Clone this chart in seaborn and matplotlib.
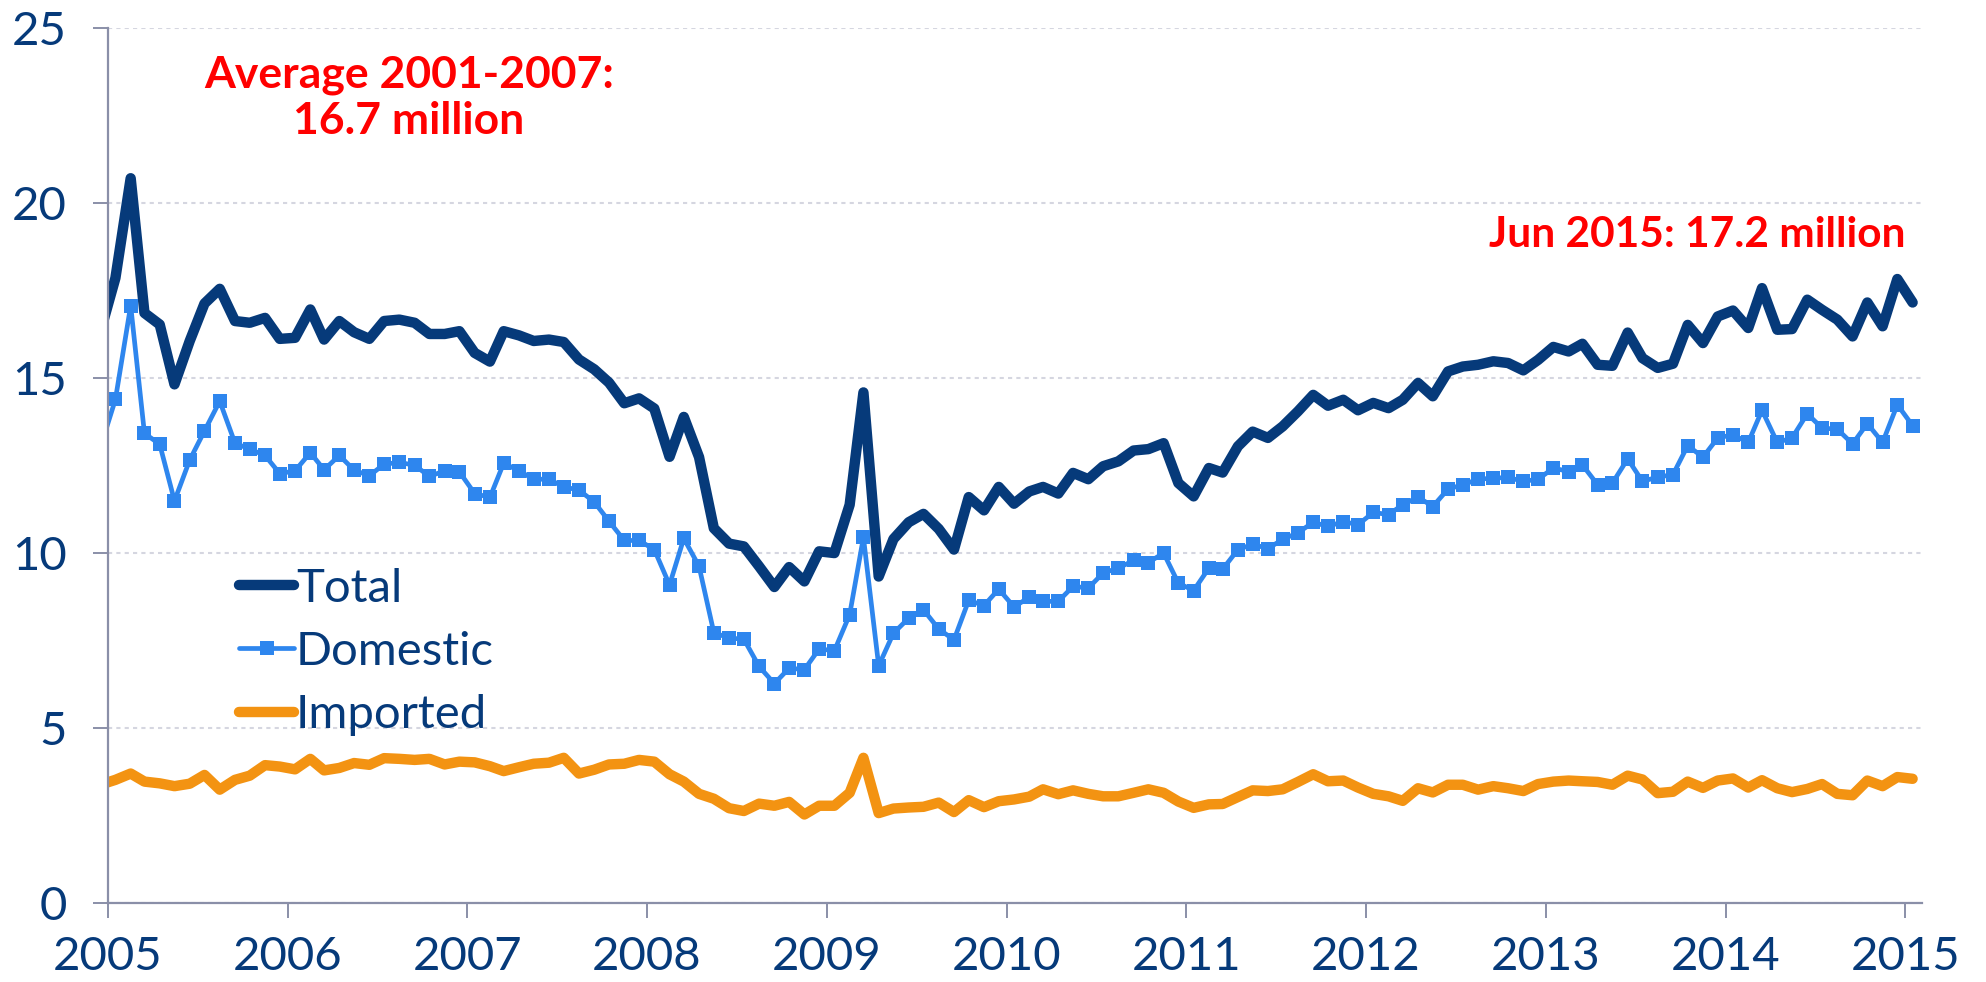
import pandas as pd
import numpy as np
import seaborn as sns
import matplotlib
matplotlib.use('Agg')
import matplotlib.pyplot as plt
import matplotlib.dates as mdates

# monthly values, Dec 2004 .. Jan 2015 (millions, SAAR)
total = [16.3, 17.86, 20.71, 16.86, 16.53, 14.82, 16.06, 17.13, 17.55, 16.63, 16.58, 16.72, 16.12,
         16.15, 16.96, 16.10, 16.63, 16.31, 16.12, 16.63, 16.67, 16.58, 16.26, 16.26, 16.34,
         15.72, 15.47, 16.34, 16.22, 16.06, 16.10, 16.03, 15.53, 15.25, 14.87, 14.28, 14.42,
         14.13, 12.75, 13.89, 12.74, 10.71, 10.27, 10.19, 9.62, 9.03, 9.60, 9.19, 10.05,
         10.0, 11.38, 14.59, 9.33, 10.40, 10.88, 11.12, 10.69, 10.10, 11.60, 11.22, 11.89,
         11.41, 11.76, 11.89, 11.70, 12.29, 12.11, 12.48, 12.62, 12.93, 12.97, 13.14, 12.00,
         11.62, 12.43, 12.30, 13.05, 13.47, 13.29, 13.62, 14.05, 14.52, 14.21, 14.38, 14.08,
         14.29, 14.14, 14.38, 14.86, 14.48, 15.19, 15.33, 15.38, 15.48, 15.43, 15.22, 15.52,
         15.89, 15.76, 15.98, 15.38, 15.35, 16.30, 15.57, 15.29, 15.41, 16.52, 16.00, 16.76,
         16.93, 16.43, 17.57, 16.38, 16.40, 17.24, 16.95, 16.67, 16.19, 17.16, 16.48, 17.83,
         17.16]
domestic = [13.0, 14.39, 17.07, 13.42, 13.11, 11.49, 12.66, 13.49, 14.34, 13.14, 12.97, 12.79, 12.27,
            12.35, 12.87, 12.38, 12.79, 12.37, 12.21, 12.54, 12.59, 12.51, 12.19, 12.35, 12.32,
            11.70, 11.59, 12.57, 12.35, 12.11, 12.11, 11.89, 11.80, 11.46, 10.91, 10.36, 10.36,
            10.10, 9.09, 10.42, 9.62, 7.73, 7.57, 7.54, 6.76, 6.27, 6.71, 6.67, 7.26,
            7.21, 8.24, 10.45, 6.78, 7.71, 8.14, 8.38, 7.83, 7.52, 8.65, 8.50, 8.97,
            8.46, 8.74, 8.62, 8.62, 9.05, 9.00, 9.43, 9.57, 9.79, 9.73, 10.00, 9.14,
            8.93, 9.57, 9.54, 10.10, 10.25, 10.13, 10.39, 10.58, 10.88, 10.76, 10.90, 10.81,
            11.16, 11.10, 11.38, 11.60, 11.33, 11.83, 11.95, 12.11, 12.14, 12.16, 12.05, 12.11,
            12.43, 12.33, 12.52, 11.95, 12.00, 12.69, 12.05, 12.17, 12.24, 13.07, 12.74, 13.29,
            13.38, 13.16, 14.08, 13.16, 13.29, 13.98, 13.57, 13.54, 13.12, 13.70, 13.16, 14.24,
            13.64]
imported = [3.38, 3.52, 3.70, 3.47, 3.42, 3.34, 3.41, 3.66, 3.24, 3.52, 3.64, 3.94, 3.90,
            3.82, 4.12, 3.79, 3.86, 4.00, 3.95, 4.14, 4.12, 4.09, 4.12, 3.96, 4.04,
            4.02, 3.91, 3.77, 3.88, 3.98, 4.01, 4.15, 3.70, 3.81, 3.96, 3.98, 4.09,
            4.04, 3.68, 3.47, 3.12, 2.98, 2.71, 2.63, 2.84, 2.78, 2.89, 2.53, 2.78,
            2.78, 3.15, 4.15, 2.57, 2.70, 2.73, 2.75, 2.87, 2.60, 2.94, 2.74, 2.91,
            2.96, 3.04, 3.25, 3.11, 3.22, 3.12, 3.05, 3.05, 3.15, 3.25, 3.15, 2.90,
            2.72, 2.82, 2.83, 3.03, 3.22, 3.20, 3.25, 3.46, 3.68, 3.48, 3.50, 3.30,
            3.12, 3.05, 2.92, 3.28, 3.16, 3.38, 3.38, 3.24, 3.34, 3.28, 3.20, 3.40,
            3.47, 3.50, 3.48, 3.46, 3.38, 3.64, 3.53, 3.14, 3.18, 3.47, 3.29, 3.50,
            3.56, 3.30, 3.51, 3.28, 3.17, 3.26, 3.40, 3.12, 3.08, 3.50, 3.34, 3.60,
            3.55]
dates = pd.date_range('2004-12-01', periods=len(total), freq='MS') + pd.Timedelta(days=15)

df = pd.DataFrame({'date': dates, 'Total': total, 'Domestic': domestic, 'Imported': imported})

navy = '#063a7a'
blue = '#2e86ee'
orange = '#f39312'
gray = '#8a8fa8'

sns.set_theme(style='white')
plt.rcParams['font.family'] = ['Lato', 'DejaVu Sans']

fig = plt.figure(figsize=(19.86, 9.82), dpi=100)
ax = fig.add_axes([0.0544, 0.0804, 0.9136, 0.891])

sns.lineplot(data=df, x='date', y='Total', ax=ax, color=navy, lw=7.5, label='Total',
             solid_joinstyle='round', solid_capstyle='round')
sns.lineplot(data=df, x='date', y='Domestic', ax=ax, color=blue, lw=3.4, label='Domestic',
             marker='s', markersize=10.5, markeredgewidth=0, solid_joinstyle='round')
sns.lineplot(data=df, x='date', y='Imported', ax=ax, color=orange, lw=7.5, label='Imported',
             solid_joinstyle='round', solid_capstyle='round')

ax.set_ylim(0, 25)
ax.set_yticks([0, 5, 10, 15, 20, 25])
ax.set_xlim(pd.Timestamp('2005-01-01'), pd.Timestamp('2015-02-05'))
ax.xaxis.set_major_locator(mdates.YearLocator())
ax.xaxis.set_major_formatter(mdates.DateFormatter('%Y'))
ax.set_xlabel('')
ax.set_ylabel('')

ax.yaxis.grid(True, linestyle=(0, (2, 2)), color='#d5d6e0', lw=1.5)
ax.xaxis.grid(False)
for s in ['top', 'right']:
    ax.spines[s].set_visible(False)
for s in ['left', 'bottom']:
    ax.spines[s].set_color(gray)
    ax.spines[s].set_linewidth(1.6)

ax.tick_params(axis='both', direction='out', length=10.5, width=1.4, color=gray,
               labelsize=34, labelcolor=navy)
ax.tick_params(axis='y', pad=19, left=True)
ax.tick_params(axis='x', pad=13, bottom=True)

ax.text(pd.Timestamp('2006-09-04'), 23.0, 'Average 2001-2007:\n16.7 million', color='#ff0000',
        fontsize=32, fontweight='bold', ha='center', va='center', linespacing=1.18)
ax.text(pd.Timestamp('2015-01-01'), 19.08, 'Jun 2015: 17.2 million', color='#ff0000',
        fontsize=30.5, fontweight='bold', ha='right', va='center')

leg = ax.legend(loc='upper left', bbox_to_anchor=(0.062, 0.405), frameon=False,
                fontsize=34, handlelength=1.15, handletextpad=0.05, labelspacing=0.45,
                borderaxespad=0)
for t in leg.get_texts():
    t.set_color(navy)

fig.savefig('out.png', dpi=100)
